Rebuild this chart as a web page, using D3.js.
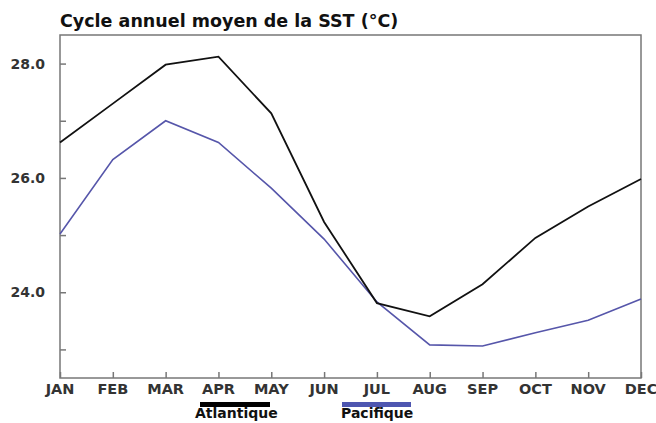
<!DOCTYPE html>
<html lang="fr">
<head>
<meta charset="utf-8">
<script src="https://d3js.org/d3.v7.min.js"></script>
<style>
  body { margin: 0; background: #fff; }
  svg text { font-family: "DejaVu Sans", Verdana, sans-serif; fill: #222; }
</style>
</head>
<body>
<svg id="chart" width="656" height="423"></svg>
<script>
// months along x
var months = ["JAN","FEB","MAR","APR","MAY","JUN","JUL","AUG","SEP","OCT","NOV","DEC"];
// mean SST, degrees C
var atlantique = [26.62, 27.30, 27.98, 28.12, 27.13, 25.23, 23.81, 23.58, 24.14, 24.95, 25.50, 25.98];
var pacifique  = [25.02, 26.32, 27.00, 26.62, 25.82, 24.93, 23.83, 23.08, 23.06, 23.29, 23.51, 23.88];
var yTicks = [23, 24, 25, 26, 27, 28];
var yLabelled = [24, 26, 28];

var svg = d3.select("#chart");
var margin = {top: 35, right: 15, bottom: 45, left: 60};
var width = 656 - margin.left - margin.right,
    height = 423 - margin.top - margin.bottom;

var x = d3.scalePoint().domain(months).range([0, width]);
var y = d3.scaleLinear().domain([22.5, 28.5]).range([height, 0]);

svg.append("text")
  .attr("x", 60).attr("y", 27)
  .style("font-size", "17.5px").style("font-weight", "bold").style("fill", "#111")
  .text("Cycle annuel moyen de la SST (°C)");

var g = svg.append("g").attr("transform", "translate(" + margin.left + "," + margin.top + ")");

g.append("rect")
  .attr("width", width).attr("height", height)
  .attr("fill", "none").attr("stroke", "#777").attr("stroke-width", 1.5);

// y axis: ticks inside, labels on the even degrees
var yAxis = g.append("g")
  .call(d3.axisRight(y).tickValues(yTicks).tickSize(6).tickFormat(""));
yAxis.select(".domain").remove();
yAxis.selectAll("line").attr("stroke", "#777").attr("stroke-width", 1.5);

g.selectAll(".ylab").data(yLabelled).enter().append("text")
  .attr("class", "ylab")
  .attr("x", -15).attr("y", function(d) { return y(d); })
  .attr("dy", "0.36em").attr("text-anchor", "end")
  .style("font-size", "14px").style("font-weight", "bold").style("fill", "#333")
  .text(function(d) { return d3.format(".1f")(d); });

// x axis: ticks pointing up
var xAxis = g.append("g")
  .attr("transform", "translate(0," + height + ")")
  .call(d3.axisTop(x).tickSize(6).tickFormat(""));
xAxis.select(".domain").remove();
xAxis.selectAll("line").attr("stroke", "#777").attr("stroke-width", 1.5);

g.selectAll(".xlab").data(months).enter().append("text")
  .attr("class", "xlab")
  .attr("x", function(d) { return x(d); }).attr("y", height + 16)
  .attr("text-anchor", "middle")
  .style("font-size", "14.5px").style("font-weight", "bold").style("fill", "#333")
  .text(function(d) { return d; });

var line = d3.line()
  .x(function(d, i) { return x(months[i]); })
  .y(function(d) { return y(d); });

g.append("path").datum(pacifique)
  .attr("d", line).attr("fill", "none")
  .attr("stroke", "#5656aa").attr("stroke-width", 1.6);

g.append("path").datum(atlantique)
  .attr("d", line).attr("fill", "none")
  .attr("stroke", "#111").attr("stroke-width", 1.8);

// legend
var legend = [
  {name: "Atlantique", color: "#000", x0: 200, x1: 270, tx: 195},
  {name: "Pacifique", color: "#4e56b0", x0: 342, x1: 411, tx: 341}
];
var lg = svg.selectAll(".legend").data(legend).enter().append("g").attr("class", "legend");
lg.append("rect")
  .attr("x", function(d) { return d.x0; }).attr("y", 402)
  .attr("width", function(d) { return d.x1 - d.x0; }).attr("height", 5)
  .attr("fill", function(d) { return d.color; });
lg.append("text")
  .attr("x", function(d) { return d.tx; }).attr("y", 418)
  .style("font-size", "14px").style("font-weight", "bold").style("fill", "#111")
  .text(function(d) { return d.name; });
</script>
</body>
</html>
